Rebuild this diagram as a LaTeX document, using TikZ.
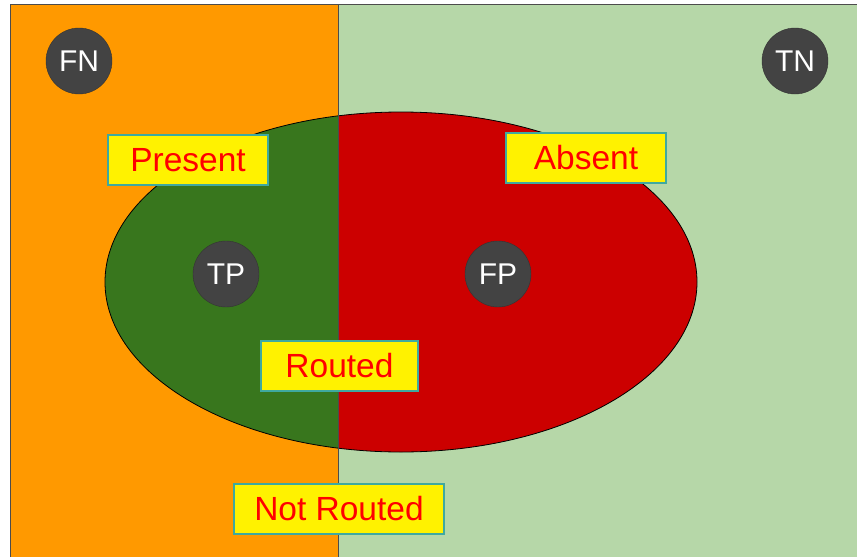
\documentclass[tikz,border=0pt]{standalone}
\usepackage{fontspec}
\setmainfont{Liberation Sans}
\usetikzlibrary{positioning}

\definecolor{fnorange}{HTML}{FF9900}
\definecolor{tnlight}{HTML}{B6D7A8}
\definecolor{tpgreen}{HTML}{38761D}
\definecolor{fpred}{HTML}{CC0000}
\definecolor{dotgray}{HTML}{434343}
\definecolor{tagline}{HTML}{3FA9A0}
\definecolor{tagtext}{HTML}{FF0000}

\begin{document}
\begin{tikzpicture}[x=1pt, y=-1pt,
	tag/.style={draw=tagline, line width=1.2pt, fill=yellow, text=tagtext,
		font=\fontsize{33.5}{33.5}\selectfont, minimum height=50pt, inner xsep=20pt},
	count/.style={circle, draw=black!80, fill=dotgray, text=white,
		font=\fontsize{30}{30}\selectfont, minimum size=66pt, inner sep=0pt}]
	\useasboundingbox (0,0) rectangle (857,557);
	
	% the two halves of the frame
	\fill[fnorange] (10,4) rectangle (338,557);
	\fill[tnlight] (338,4) rectangle (857,557);
	
	% the ellipse, split at the same line
	\begin{scope}
		\clip (0,0) rectangle (338,557);
		\fill[tpgreen] (401,282) ellipse [x radius=296pt, y radius=170pt];
	\end{scope}
	\begin{scope}
		\clip (338,0) rectangle (857,557);
		\fill[fpred] (401,282) ellipse [x radius=296pt, y radius=170pt];
	\end{scope}
	\draw[black, line width=0.8pt] (401,282) ellipse [x radius=296pt, y radius=170pt];
	
	\draw[black!70, line width=1pt] (10,557) -- (10,4) -- (857,4);
	\draw[black!70, line width=1pt] (338,4) -- (338,557);
	
	\node[count] (fn) at (79,61) {FN};
	\node[count] (tn) at (795,61) {TN};
	\node[count] (tp) at (226,274) {TP};
	\node[count] (fp) at (498,274) {FP};
	
	\node[tag, minimum width=160pt] (present) at (188,160) {Present};
	\node[tag, minimum width=160pt] (absent) at (586,158) {Absent};
	\node[tag, minimum width=157pt] (routed) at (339.5,366) {Routed};
	\node[tag, minimum width=210pt] (notrouted) at (339,509) {Not Routed};
\end{tikzpicture}
\end{document}
